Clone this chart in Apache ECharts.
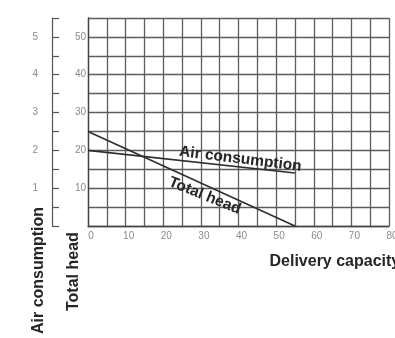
<!DOCTYPE html>
<html>
<head>
<meta charset="utf-8">
<script src="https://cdn.jsdelivr.net/npm/echarts@6/dist/echarts.min.js"></script>
<style>
  html, body { margin: 0; padding: 0; background: #fff; }
  #chart { width: 395px; height: 338px; }
</style>
</head>
<body>
<div id="chart"></div>
<script>
// Delivery capacity (x) against total head and air consumption
const deliveryCapacity = [0, 55];
const totalHead = [25, 0];
const airConsumption = [2.0, 1.4];

const headTicks = [10, 20, 30, 40, 50];
const airTicks = [1, 2, 3, 4, 5];
const capacityTicks = [0, 10, 20, 30, 40, 50, 60, 70, 80];

const FONT = "'Liberation Sans', Arial, sans-serif";
const GRID_COLOR = '#5c5c5c';
const INK = '#262626';

const headData = deliveryCapacity.map((x, i) => [x, totalHead[i]]);
const airData = deliveryCapacity.map((x, i) => [x, airConsumption[i]]);

const curveLabel = (text, rotate) => ({
  show: true,
  position: 'inside',
  formatter: text,
  rotate: rotate,
  color: INK,
  fontFamily: FONT,
  fontWeight: 'bold',
  fontSize: 15.5
});

const chart = echarts.init(document.getElementById('chart'), null, { renderer: 'canvas' });

chart.setOption({
  animation: false,
  backgroundColor: '#fff',
  grid: {
    left: 88, right: 6, top: 18, bottom: 112,
    containLabel: false,
    outerBoundsMode: 'none'
  },
  xAxis: {
    type: 'value',
    min: 0,
    max: 80,
    interval: 5,
    name: 'Delivery capacity',
    nameLocation: 'middle',
    nameGap: 28,
    nameTextStyle: {
      align: 'left',
      padding: [0, 0, 0, 31],
      color: INK,
      fontFamily: FONT,
      fontWeight: 'bold',
      fontSize: 16
    },
    axisLine: { show: true, lineStyle: { color: '#444', width: 1.3 } },
    axisTick: { show: false },
    axisLabel: {
      margin: 5,
      color: '#8a8a8a',
      fontFamily: FONT,
      fontSize: 10,
      padding: [0, 0, 0, 6],
      formatter: v => capacityTicks.includes(v) ? String(v) : ''
    },
    splitLine: { show: true, lineStyle: { color: GRID_COLOR, width: 1.3 } }
  },
  yAxis: [
    {
      type: 'value',
      position: 'left',
      min: 0,
      max: 55,
      interval: 5,
      axisLine: { show: true, lineStyle: { color: '#444', width: 1.3 } },
      axisTick: { show: false },
      axisLabel: {
        margin: 2,
        color: '#8a8a8a',
        fontFamily: FONT,
        fontSize: 10,
        padding: [0, 0, 7, 0],
        formatter: v => headTicks.includes(v) ? String(v) : ''
      },
      splitLine: { show: true, lineStyle: { color: GRID_COLOR, width: 1.3 } }
    },
    {
      type: 'value',
      position: 'left',
      offset: 36,
      min: 0,
      max: 5.5,
      interval: 0.5,
      axisLine: { show: true, onZero: false, lineStyle: { color: '#555', width: 1.2 } },
      axisTick: { show: true, inside: true, length: 7, lineStyle: { color: '#555', width: 1.2 } },
      axisLabel: {
        margin: 14,
        color: '#8a8a8a',
        fontFamily: FONT,
        fontSize: 10,
        padding: [0, 0, 7, 0],
        formatter: v => airTicks.includes(v) ? String(v) : ''
      },
      splitLine: { show: false }
    }
  ],
  graphic: [
    {
      type: 'text',
      x: 39,
      y: 334,
      rotation: Math.PI / 2,
      style: {
        text: 'Air consumption',
        fill: INK,
        font: "bold 16px 'Liberation Sans', Arial, sans-serif",
        textAlign: 'left',
        textVerticalAlign: 'middle'
      }
    },
    {
      type: 'text',
      x: 74,
      y: 311,
      rotation: Math.PI / 2,
      style: {
        text: 'Total head',
        fill: INK,
        font: "bold 16px 'Liberation Sans', Arial, sans-serif",
        textAlign: 'left',
        textVerticalAlign: 'middle'
      }
    }
  ],
  series: [
    {
      name: 'Total head',
      type: 'line',
      yAxisIndex: 0,
      data: headData,
      symbol: 'none',
      silent: true,
      lineStyle: { color: '#2e2e2e', width: 1.6 },
      markPoint: {
        silent: true,
        symbol: 'circle',
        symbolSize: 1,
        itemStyle: { color: 'rgba(0,0,0,0)' },
        label: curveLabel('Total head', -22),
        data: [{ coord: [31, 8.0] }]
      }
    },
    {
      name: 'Air consumption',
      type: 'line',
      yAxisIndex: 1,
      data: airData,
      symbol: 'none',
      silent: true,
      lineStyle: { color: '#2e2e2e', width: 1.6 },
      markPoint: {
        silent: true,
        symbol: 'circle',
        symbolSize: 1,
        itemStyle: { color: 'rgba(0,0,0,0)' },
        label: curveLabel('Air consumption', -7),
        data: [{ coord: [40.5, 1.77] }]
      }
    }
  ]
});
</script>
</body>
</html>
